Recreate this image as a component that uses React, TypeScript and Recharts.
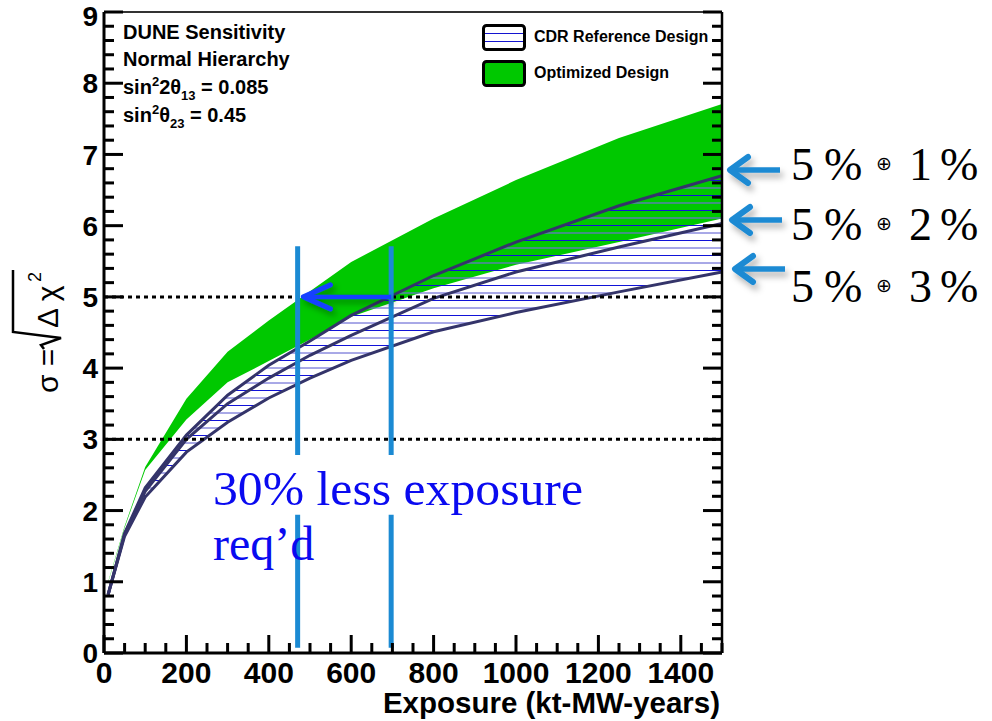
import { ComposedChart, Area, Line, XAxis, YAxis, ReferenceLine, Legend } from 'recharts'

// exposure points (kt-MW-years)
const exposure = [10, 50, 100, 200, 300, 400, 500, 600, 800, 1000, 1250, 1500]

// optimized design band
const optimizedLow = [0.99, 1.76, 2.57, 3.28, 3.8, 4.1, 4.4, 4.72, 5.12, 5.45, 5.77, 6.1]
const optimizedHigh = [1.0, 1.78, 2.61, 3.57, 4.23, 4.67, 5.08, 5.49, 6.1, 6.64, 7.23, 7.71]

// CDR reference design, 5% (+) 1%, 2%, 3%
const cdr1 = [0.82, 1.68, 2.32, 3.06, 3.62, 4.04, 4.38, 4.74, 5.3, 5.77, 6.28, 6.7]
const cdr2 = [0.82, 1.67, 2.27, 3.0, 3.5, 3.86, 4.18, 4.46, 4.98, 5.35, 5.7, 6.03]
const cdr3 = [0.82, 1.64, 2.19, 2.82, 3.24, 3.58, 3.86, 4.11, 4.51, 4.78, 5.07, 5.35]

const xTicks = Array.from({ length: 31 }, (_, i) => i * 50)
const yTicks = Array.from({ length: 46 }, (_, i) => Math.round(i * 2) / 10)
const xLabels = [0, 200, 400, 600, 800, 1000, 1200, 1400]

const data = exposure.map((x, i) => ({
  x,
  optimized: [optimizedLow[i], optimizedHigh[i]],
  cdr: [cdr3[i], cdr1[i]],
  cdr1: cdr1[i],
  cdr2: cdr2[i],
  cdr3: cdr3[i],
}))

const SANS = '"Liberation Sans", Arial, Helvetica, sans-serif'
const SERIF = '"Liberation Serif", "Times New Roman", serif'
const NAVY = '#34346a'
const GREEN = '#00c800'
const LIGHT_BLUE = '#1b8ad3'

function LeftTick({ x, y, payload }: any) {
  const v = payload.value
  const major = Math.abs(v - Math.round(v)) < 1e-6
  // top label sits at the very edge of the canvas, nudge it in a bit
  const nudge = v === 9 ? 4 : 0
  return (
    <g>
      <line x1={x} y1={y} x2={x + (major ? 19 : 10)} y2={y} stroke="#000" strokeWidth={3} />
      {major && (
        <text x={x - 6} y={y + nudge} dy="0.36em" textAnchor="end" fontFamily={SANS} fontWeight="bold" fontSize={28} fill="#000">
          {Math.round(v)}
        </text>
      )}
    </g>
  )
}

function RightTick({ x, y, payload }: any) {
  const v = payload.value
  const major = Math.abs(v - Math.round(v)) < 1e-6
  return <line x1={x} y1={y} x2={x - (major ? 19 : 10)} y2={y} stroke="#000" strokeWidth={3} />
}

function BottomTick({ x, y, payload }: any) {
  const v = payload.value
  const major = v % 200 === 0
  return (
    <g>
      <line x1={x} y1={y} x2={x} y2={y - (major ? 18 : 10)} stroke="#000" strokeWidth={3} />
      {xLabels.includes(v) && (
        <text x={x} y={y + 30} textAnchor="middle" fontFamily={SANS} fontWeight="bold" fontSize={30} fill="#000">
          {v}
        </text>
      )}
    </g>
  )
}

// horizontal arrow, head at (x2, y2)
function ArrowShape({ x1, y1, x2, y2 }: any) {
  return (
    <g filter="url(#arrowShadow)">
      <line x1={x1} y1={y1} x2={x2 + 2} y2={y2} stroke="#1440ff" strokeWidth={4.5} />
      <polyline
        points={`${x2 + 27},${y2 - 12} ${x2},${y2} ${x2 + 27},${y2 + 12}`}
        fill="none"
        stroke="#1440ff"
        strokeWidth={5}
        strokeLinecap="round"
        strokeLinejoin="round"
      />
    </g>
  )
}

function LegendBox() {
  const row = { display: 'flex', alignItems: 'center', height: 26 } as const
  return (
    <div style={{ fontFamily: SANS, fontWeight: 'bold', fontSize: 16, color: '#000' }}>
      <div style={{ ...row, marginBottom: 10 }}>
        <svg width={44} height={27}>
          <rect x={1.5} y={1.5} width={41} height={24} rx={3} fill="#fff" stroke="#000" strokeWidth={3} />
          <line x1={3} y1={9.5} x2={41} y2={9.5} stroke="#1414d0" strokeWidth={1} />
          <line x1={3} y1={17.5} x2={41} y2={17.5} stroke="#1414d0" strokeWidth={1} />
        </svg>
        <span style={{ marginLeft: 8 }}>CDR Reference Design</span>
      </div>
      <div style={row}>
        <svg width={44} height={27}>
          <rect x={1.5} y={1.5} width={41} height={24} rx={3} fill={GREEN} stroke="#000" strokeWidth={3} />
        </svg>
        <span style={{ marginLeft: 8 }}>Optimized Design</span>
      </div>
    </div>
  )
}

const notes = [
  { sys: '1', base: 180, arrowY: 170, tip: 730 },
  { sys: '2', base: 240, arrowY: 220, tip: 732 },
  { sys: '3', base: 302, arrowY: 269, tip: 735 },
]

export default function App() {
  return (
    <div style={{ position: 'absolute', left: 0, top: 0, width: 992, height: 721, background: '#fff' }}>
      <ComposedChart width={992} height={721} data={data} margin={{ top: 10, right: 269, bottom: 0, left: 0 }}>
        <defs>
          <pattern id="cdrHatch" patternUnits="userSpaceOnUse" width={10} height={15}>
            <line x1={0} y1={0.5} x2={10} y2={0.5} stroke="#1212d8" strokeWidth={1} />
            <line x1={0} y1={8} x2={10} y2={8} stroke="#6e6ed6" strokeWidth={1.2} />
          </pattern>
          <filter id="arrowShadow" x="-20%" y="-60%" width="140%" height="240%">
            <feDropShadow dx={3} dy={4} stdDeviation={3} floodColor="#000" floodOpacity={0.35} />
          </filter>
        </defs>

        <XAxis
          dataKey="x"
          type="number"
          domain={[0, 1500]}
          ticks={xTicks}
          interval={0}
          tick={(p: any) => <BottomTick {...p} />}
          tickLine={false}
          tickSize={0}
          tickMargin={0}
          height={68}
          axisLine={{ stroke: '#000', strokeWidth: 3 }}
        />
        <XAxis
          xAxisId="top"
          dataKey="x"
          orientation="top"
          type="number"
          domain={[0, 1500]}
          tick={false}
          tickLine={false}
          height={2}
          axisLine={{ stroke: '#333', strokeWidth: 2 }}
        />
        <YAxis
          type="number"
          domain={[0, 9]}
          ticks={yTicks}
          interval={0}
          tick={(p: any) => <LeftTick {...p} />}
          tickLine={false}
          tickSize={0}
          tickMargin={0}
          width={104}
          axisLine={{ stroke: '#000', strokeWidth: 3 }}
        />
        <YAxis
          yAxisId="right"
          orientation="right"
          type="number"
          domain={[0, 9]}
          ticks={yTicks}
          interval={0}
          tick={(p: any) => <RightTick {...p} />}
          tickLine={false}
          tickSize={0}
          tickMargin={0}
          width={1}
          axisLine={{ stroke: '#000', strokeWidth: 2.5 }}
        />

        <Area type="linear" dataKey="optimized" fill={GREEN} fillOpacity={1} stroke="none" isAnimationActive={false} />
        <Area type="linear" dataKey="cdr" fill="url(#cdrHatch)" fillOpacity={1} stroke="none" isAnimationActive={false} />
        <Line type="linear" dataKey="cdr1" stroke={NAVY} strokeWidth={3} dot={false} isAnimationActive={false} />
        <Line type="linear" dataKey="cdr2" stroke={NAVY} strokeWidth={3} dot={false} isAnimationActive={false} />
        <Line type="linear" dataKey="cdr3" stroke={NAVY} strokeWidth={3} dot={false} isAnimationActive={false} />
        {/* keeps the frame axes bound to the data */}
        <Line xAxisId="top" yAxisId="right" type="linear" dataKey="cdr3" stroke="none" dot={false} isAnimationActive={false} legendType="none" />

        <ReferenceLine y={3} stroke="#000" strokeWidth={3} strokeDasharray="4 4" />
        <ReferenceLine y={5} stroke="#000" strokeWidth={3} strokeDasharray="4 4" />

        {[470, 697].map((vx) => (
          <ReferenceLine key={`lo-${vx}`} segment={[{ x: vx, y: 0.075 }, { x: vx, y: 1.94 }]} stroke={LIGHT_BLUE} strokeWidth={5} />
        ))}
        {[470, 697].map((vx) => (
          <ReferenceLine key={`hi-${vx}`} segment={[{ x: vx, y: 2.78 }, { x: vx, y: 5.71 }]} stroke={LIGHT_BLUE} strokeWidth={5} />
        ))}
        <ReferenceLine segment={[{ x: 697, y: 5 }, { x: 484, y: 5 }]} shape={(p: any) => <ArrowShape {...p} />} />

        <Legend
          layout="vertical"
          align="center"
          verticalAlign="middle"
          content={() => <LegendBox />}
          wrapperStyle={{ left: 482, top: 24, width: 260 }}
        />
      </ComposedChart>

      <svg width={992} height={721} style={{ position: 'absolute', left: 0, top: 0, pointerEvents: 'none' }}>
        <defs>
          <filter id="noteShadow" x="-20%" y="-60%" width="140%" height="240%">
            <feDropShadow dx={3} dy={5} stdDeviation={3} floodColor="#000" floodOpacity={0.3} />
          </filter>
        </defs>

        {/* info block */}
        <g fontFamily={SANS} fontWeight="bold" fontSize={20} fill="#000">
          <text x={123} y={39}>DUNE Sensitivity</text>
          <text x={123} y={66}>Normal Hierarchy</text>
          <text x={123} y={94}>
            sin<tspan dy={-8} fontSize={13}>2</tspan>
            <tspan dy={8}>2θ</tspan>
            <tspan dy={6} fontSize={13}>13</tspan>
            <tspan dy={-6}> = 0.085</tspan>
          </text>
          <text x={123} y={122}>
            sin<tspan dy={-8} fontSize={13}>2</tspan>
            <tspan dy={8}>θ</tspan>
            <tspan dy={6} fontSize={13}>23</tspan>
            <tspan dy={-6}> = 0.45</tspan>
          </text>
        </g>

        {/* y title */}
        <g transform="translate(58,395) rotate(-90)" fontFamily={SANS} fontSize={30} fill="#000">
          <text x={2} y={0}>σ =</text>
          <path d="M 46 -14 L 50 -17 L 57 3 L 63 -45 L 125 -45" stroke="#000" strokeWidth={2.5} fill="none" />
          <text x={67} y={0}>Δ χ</text>
          <text x={113} y={-17} fontSize={18}>2</text>
        </g>

        {/* x title */}
        <text x={720} y={713} textAnchor="end" fontFamily={SANS} fontWeight="bold" fontSize={29.5} fill="#000">
          Exposure (kt-MW-years)
        </text>

        {/* exposure note */}
        <g fontFamily={SERIF} fontSize={48} fill="#0a0af0">
          <text x={213} y={505} textLength={370} lengthAdjust="spacingAndGlyphs">30% less exposure</text>
          <text x={213} y={560}>req’d</text>
        </g>

        {/* systematics notes */}
        {notes.map((n) => (
          <g key={n.sys}>
            <g filter="url(#noteShadow)">
              <line x1={n.tip + 3} y1={n.arrowY} x2={n.tip + 50} y2={n.arrowY} stroke={LIGHT_BLUE} strokeWidth={5.5} />
              <polyline
                points={`${n.tip + 18},${n.arrowY - 13} ${n.tip},${n.arrowY} ${n.tip + 18},${n.arrowY + 13}`}
                fill="none"
                stroke={LIGHT_BLUE}
                strokeWidth={6}
                strokeLinecap="round"
                strokeLinejoin="round"
              />
            </g>
            <text fontFamily={SERIF} fontSize={46} fill="#000">
              <tspan x={791} y={n.base}>5</tspan>
              <tspan x={824} y={n.base}>%</tspan>
              <tspan x={876} y={n.base - 10} fontSize={19} fontFamily='"DejaVu Sans", sans-serif'>⊕</tspan>
              <tspan x={909} y={n.base}>{n.sys}</tspan>
              <tspan x={940} y={n.base}>%</tspan>
            </text>
          </g>
        ))}
      </svg>
    </div>
  )
}
